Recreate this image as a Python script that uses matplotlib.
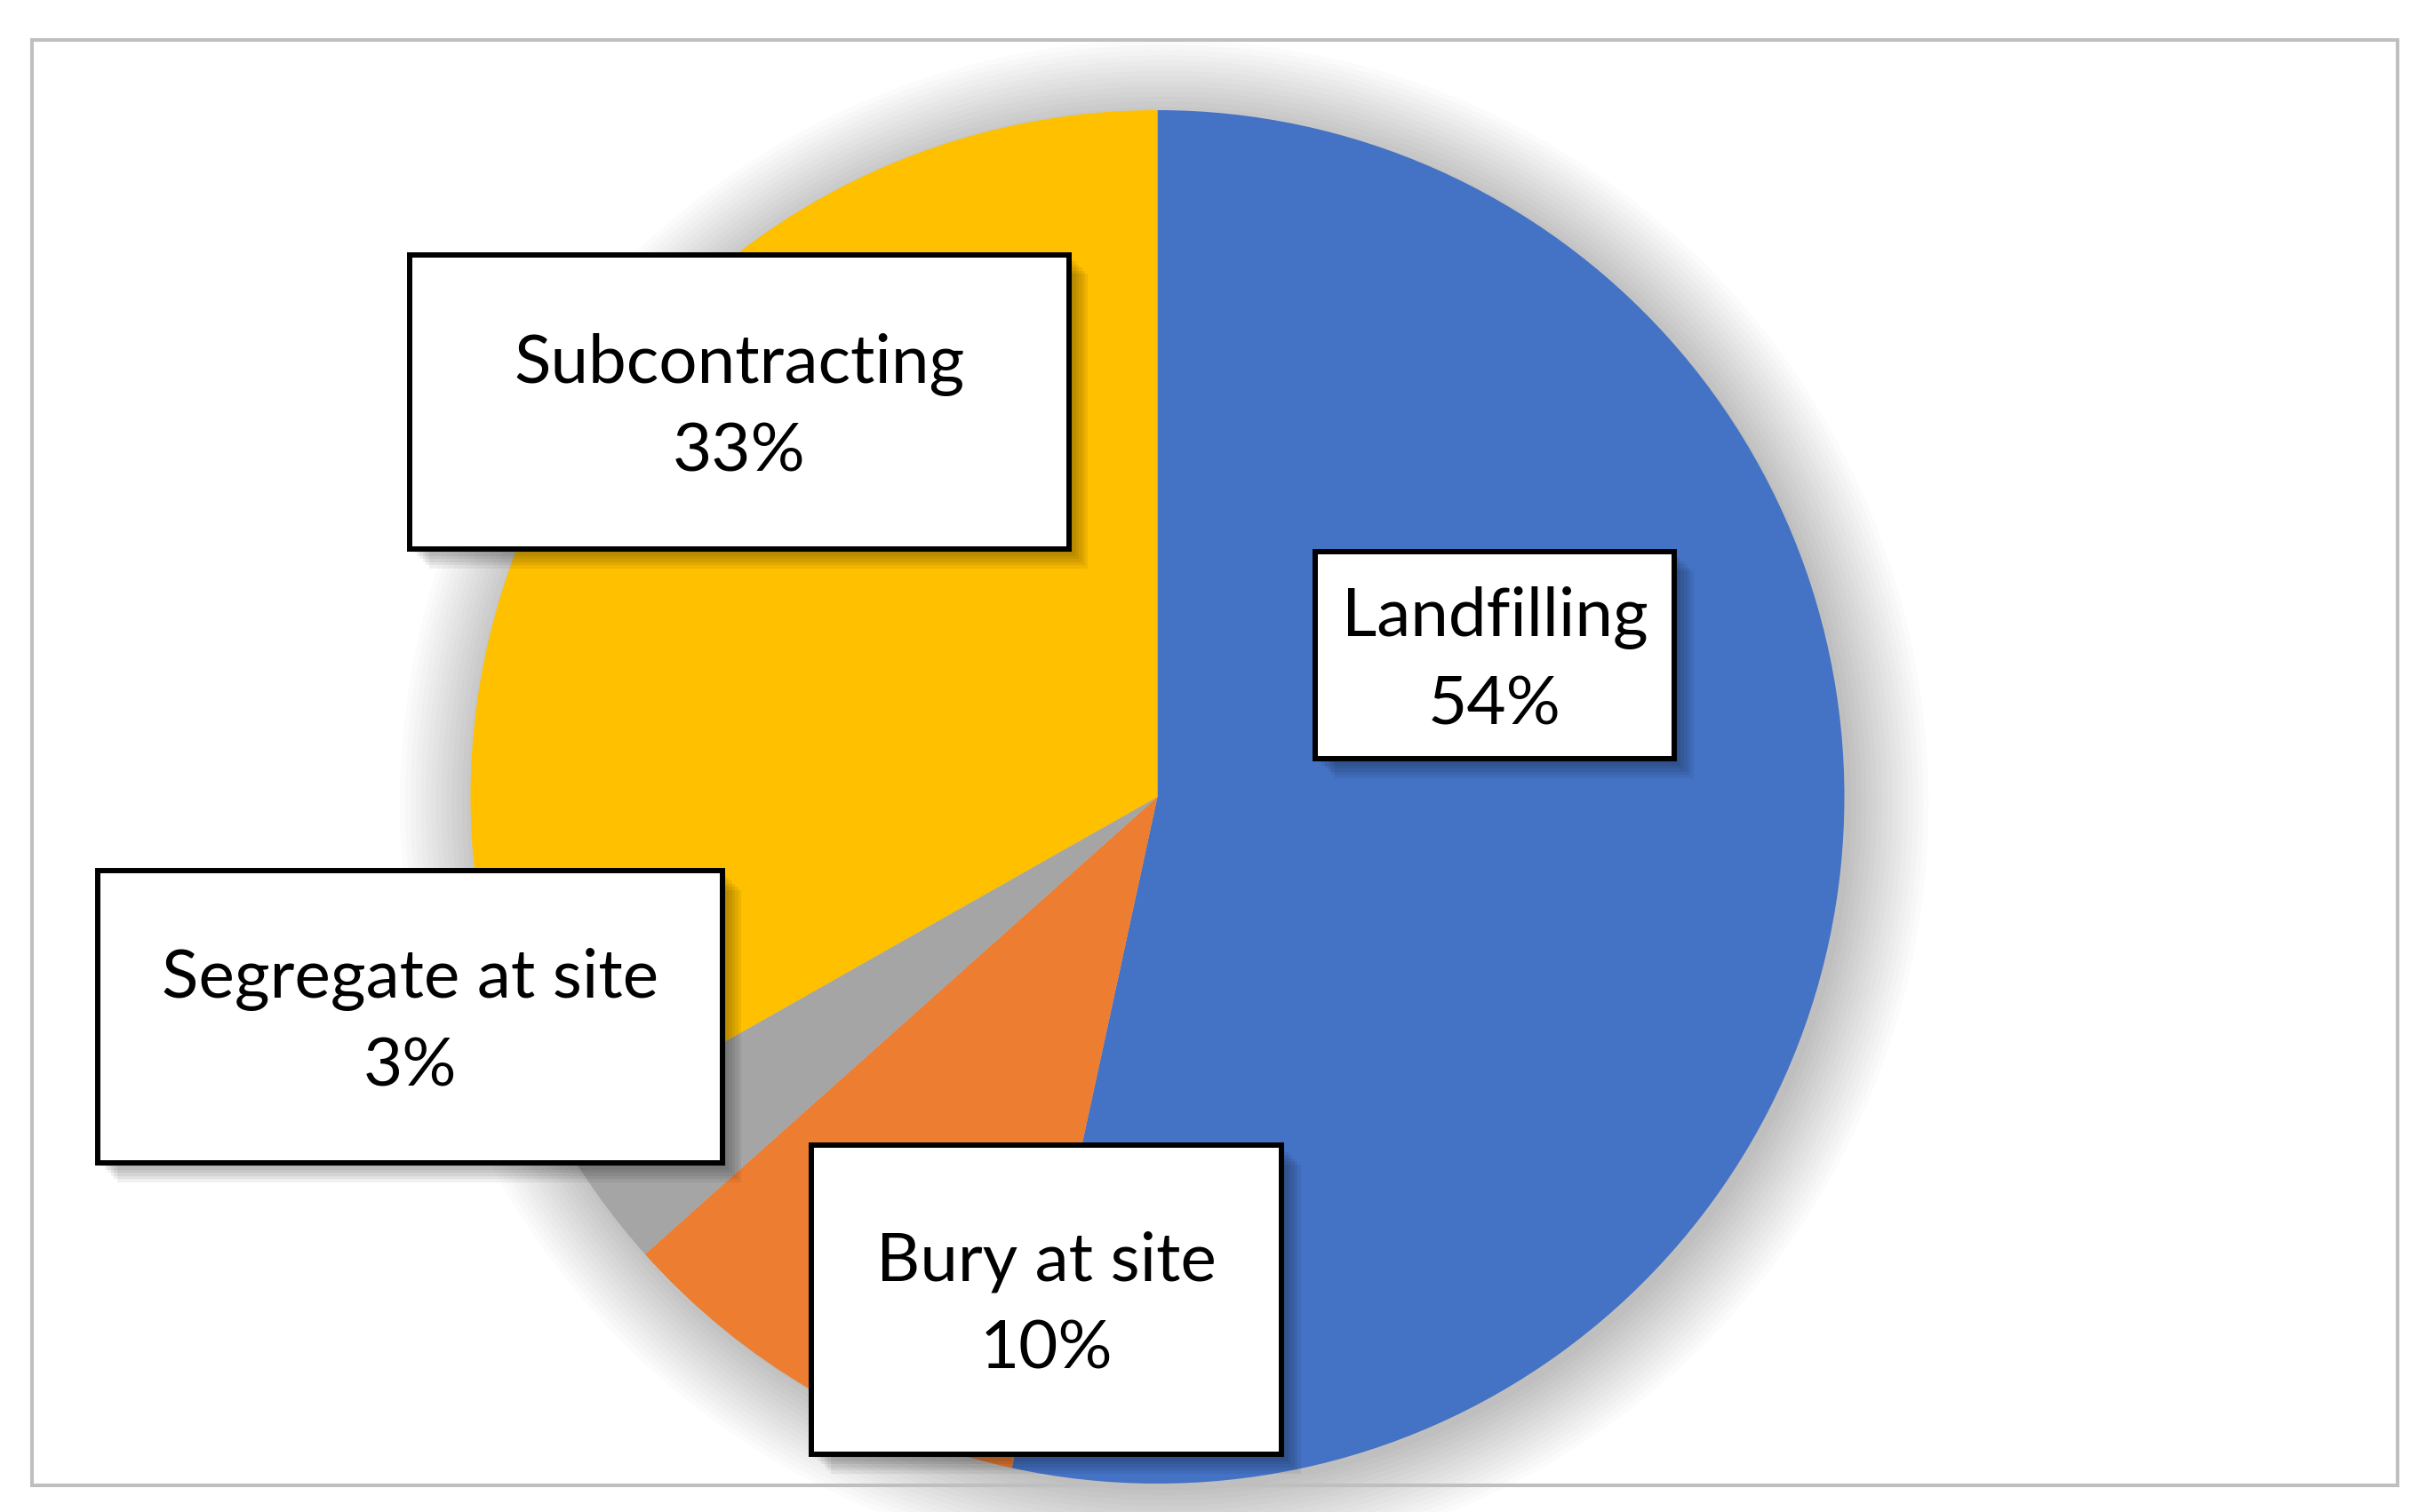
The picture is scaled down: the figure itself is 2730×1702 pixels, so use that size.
import matplotlib.pyplot as plt
from matplotlib.patches import Rectangle, Circle

labels = ["Landfilling", "Bury at site", "Segregate at site", "Subcontracting"]
# wedge shares as measured off the drawing, and the printed percentages
shares = [53.4, 10.0, 3.4, 33.2]
pct_text = ["54%", "10%", "3%", "33%"]
colors = ["#4472C4", "#ED7D31", "#A5A5A5", "#FFC000"]

# label boxes in figure pixels (x0, y0 top, x1, y1 bottom)
boxes = {
    "Landfilling": (1480, 621, 1884, 854),
    "Bury at site": (913, 1289, 1442, 1637),
    "Segregate at site": (110, 980, 813, 1309),
    "Subcontracting": (461, 287, 1203, 618),
}

W, H = 2730, 1702


def px(x0, y0, x1, y1):
    return x0 / W, 1 - y1 / H, (x1 - x0) / W, (y1 - y0) / H


def main():
    plt.rcParams['font.family'] = ['Lato', 'DejaVu Sans']
    fig = plt.figure(figsize=(W / 100, H / 100), dpi=100)

    # outer border
    fig.patches.append(Rectangle((36 / W, 1 - 1672 / H), 2662 / W, 1627 / H,
                                 transform=fig.transFigure, fill=False,
                                 edgecolor="#BFBFBF", linewidth=2.9))

    cx, cy, r = 1302.5, 897, 773
    ax = fig.add_axes(px(cx - r, cy - r, cx + r, cy + r))
    ax.set_xlim(-1, 1)
    ax.set_ylim(-1, 1)
    ax.set_aspect("equal")
    ax.axis("off")

    # soft shadow round the pie
    for k in range(16):
        ax.add_patch(Circle((0.01, -0.01), 1.0 + 0.0075 * k, color="black",
                            alpha=0.016, lw=0, clip_on=False, zorder=0))

    ax.pie(shares, colors=colors, startangle=90, counterclock=False,
           radius=1, wedgeprops=dict(linewidth=0), frame=False)
    ax.set_xlim(-1, 1)
    ax.set_ylim(-1, 1)

    for lab, pt in zip(labels, pct_text):
        x0, y0, x1, y1 = boxes[lab]
        # box shadow
        for k in range(6):
            d = 4 + 3.5 * k
            fig.patches.append(Rectangle(((x0 + d) / W, 1 - (y1 + d) / H),
                                         (x1 - x0) / W, (y1 - y0) / H,
                                         transform=fig.transFigure, color="black",
                                         alpha=0.06, lw=0, zorder=3))
        fig.patches.append(Rectangle((x0 / W, 1 - y1 / H), (x1 - x0) / W, (y1 - y0) / H,
                                     transform=fig.transFigure, facecolor="white",
                                     edgecolor="black", linewidth=4.3, zorder=4))
        fig.text((x0 + x1) / 2 / W, 1 - (y0 + y1) / 2 / H - 0.004, f"{lab}\n{pt}",
                 ha="center", va="center", multialignment="center",
                 fontsize=55, linespacing=1.52, zorder=5)

    fig.savefig("out.png", dpi=100)


if __name__ == "__main__":
    main()
